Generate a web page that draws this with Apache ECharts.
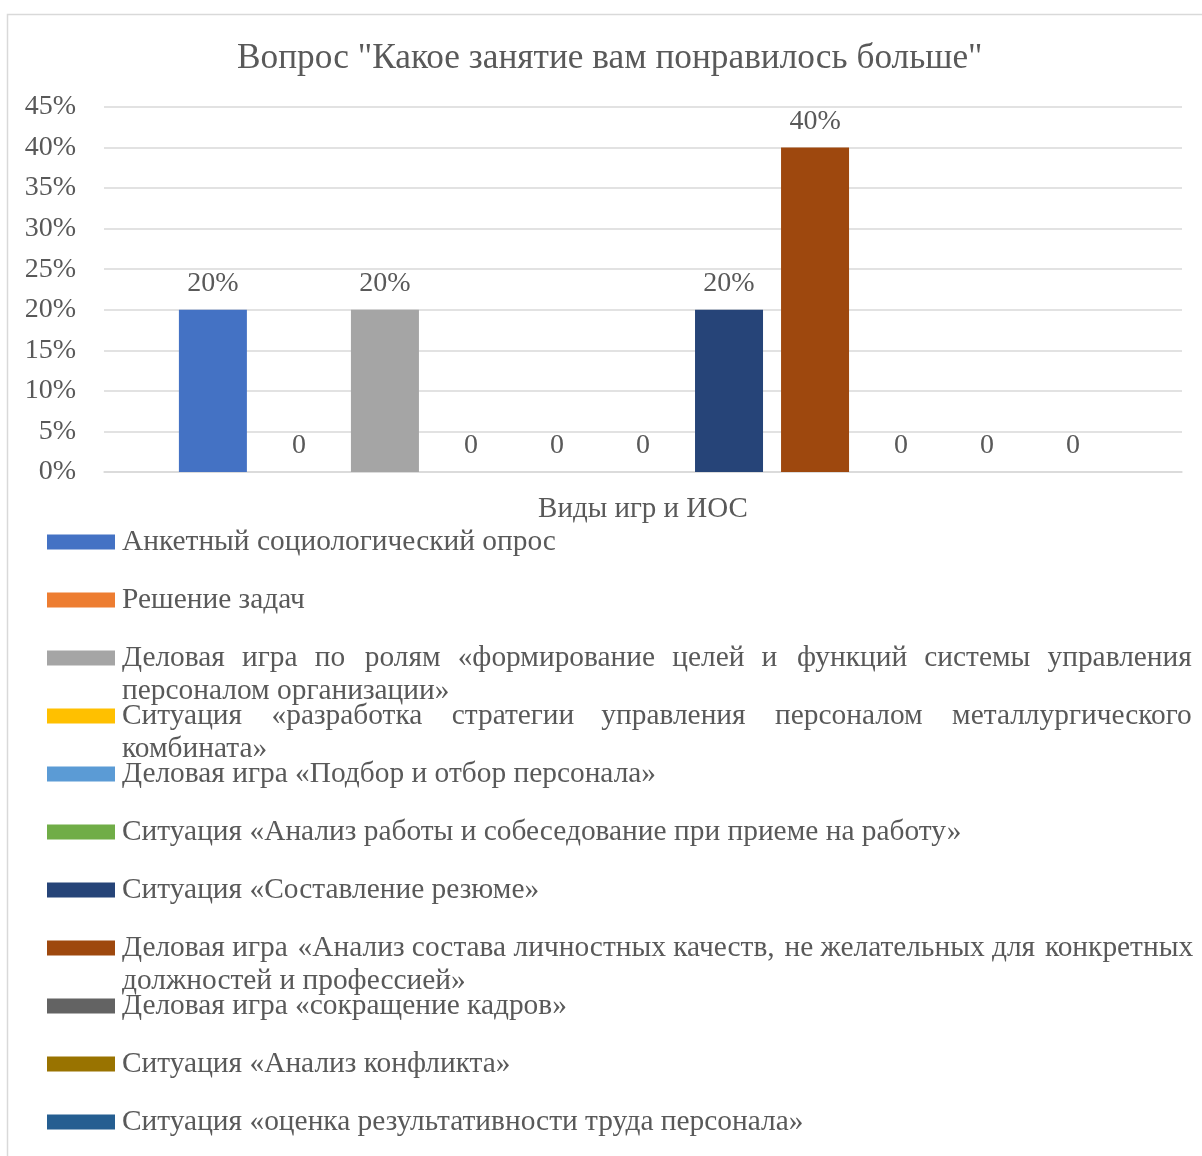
<!DOCTYPE html>
<html><head><meta charset="utf-8">
<script src="https://cdn.jsdelivr.net/npm/echarts@6/dist/echarts.min.js"></script>
<style>html,body{margin:0;padding:0;background:#fff}#c{width:1202px;height:1156px}</style>
</head><body><div id="c"></div>
<script>
const titleText = 'Вопрос "Какое занятие вам понравилось больше"';
const categories = ['Виды игр и ИОС'];
const seriesNames = [
  'Анкетный социологический опрос',
  'Решение задач',
  'Деловая игра по ролям «формирование целей и функций системы управления персоналом организации»',
  'Ситуация «разработка стратегии управления персоналом металлургического комбината»',
  'Деловая игра «Подбор и отбор персонала»',
  'Ситуация «Анализ работы и собеседование при приеме на работу»',
  'Ситуация «Составление резюме»',
  'Деловая игра «Анализ состава личностных качеств, не желательных для конкретных должностей и профессией»',
  'Деловая игра «сокращение кадров»',
  'Ситуация «Анализ конфликта»',
  'Ситуация «оценка результативности труда персонала»'
];
const seriesValues = [0.20, 0, 0.20, 0, 0, 0, 0.20, 0.40, 0, 0, 0];
const seriesColors = ['#4472C4','#ED7D31','#A5A5A5','#FFC000','#5B9BD5','#70AD47','#264478','#9E480E','#636363','#997300','#255E91'];
const yTicks = { min: 0, max: 0.45, interval: 0.05 };

const FONT = '"Liberation Serif", "Times New Roman", serif';
const TXT = '#595959';
const LEG_FS = 29.4, LEG_LH = 33, LEG_W = 1070;

// word wrap + justify (like the source document) using canvas text metrics
const ctx = document.createElement('canvas').getContext('2d');
ctx.font = LEG_FS + 'px "Liberation Serif"';
const mw = s => ctx.measureText(s).width;
const HAIR = '\u200A';
function wrapJustify(s) {
  const words = s.split(' ');
  const lines = [];
  let cur = '';
  for (const w of words) {
    const t = cur ? cur + ' ' + w : w;
    if (!cur || mw(t) <= LEG_W) cur = t; else { lines.push(cur); cur = w; }
  }
  lines.push(cur);
  const sp = mw(' ');
  const hs = mw(HAIR);
  return lines.map((ln, li) => {
    if (li === lines.length - 1) return ln;
    const ws = ln.split(' ');
    const gaps = ws.length - 1;
    if (gaps < 1) return ln;
    const per = (LEG_W - mw(ln)) / gaps;
    let r = ws[0], carry = 0;
    for (let g = 0; g < gaps; g++) {
      let e = per + carry;
      const n = Math.floor(e / sp);
      let rem = e - n * sp;
      let h = hs > 0.5 ? Math.round(rem / hs) : 0;
      carry = rem - h * hs;
      r += ' '.repeat(1 + n) + HAIR.repeat(h) + ws[g + 1];
    }
    return r;
  });
}
const legendLines = seriesNames.map(wrapJustify);

const chart = echarts.init(document.getElementById('c'));
const pct = v => Math.round(v * 100) + '%';

const option = {
  animation: false,
  backgroundColor: '#fff',
  graphic: [{
    type: 'rect', left: 5, top: 12, silent: true,
    shape: { width: 1400, height: 1400 },
    style: { fill: 'none', stroke: '#d9d9d9', lineWidth: 1.5 }
  }],
  title: {
    text: titleText, left: 232, top: 36,
    textStyle: { fontFamily: FONT, fontSize: 35.3, fontWeight: 'normal', color: TXT }
  },
  grid: { left: 104, right: 20, top: 107, bottom: 1156 - 472, containLabel: false },
  xAxis: {
    type: 'category', data: categories,
    axisLine: { lineStyle: { color: '#d9d9d9', width: 1.5 } },
    axisTick: { show: false },
    axisLabel: { fontFamily: FONT, fontSize: 29, color: TXT, margin: 23 }
  },
  yAxis: {
    type: 'value', min: yTicks.min, max: yTicks.max, interval: yTicks.interval,
    axisLine: { show: false }, axisTick: { show: false },
    splitLine: { lineStyle: { color: '#d9d9d9', width: 1.5 } },
    axisLabel: { fontFamily: FONT, fontSize: 28, color: TXT, margin: 28, formatter: pct }
  },
  legend: seriesNames.map((n, i) => {
    const lines = legendLines[i];
    const extra = lines.length - 1;
    return {
      data: [n], left: 47, top: 525.5 + 58 * i - LEG_LH * extra,
      orient: 'vertical', padding: 0,
      icon: 'rect', itemWidth: 68, itemHeight: 15, selectedMode: false,
      formatter: () => '\n'.repeat(extra) + lines.join('\n'),
      textStyle: {
        fontFamily: FONT, fontSize: LEG_FS, color: TXT, lineHeight: LEG_LH,
        overflow: 'none', padding: [0, 0, 0, 2]
      }
    };
  }),
  series: seriesNames.map((n, i) => ({
    type: 'bar', name: n, data: [seriesValues[i]],
    barWidth: 68, barGap: '26.5%',
    itemStyle: { color: seriesColors[i] },
    label: {
      show: true, position: 'top', distance: 12,
      fontFamily: FONT, fontSize: 28, color: TXT,
      formatter: p => p.value === 0 ? '0' : pct(p.value)
    }
  }))
};
chart.setOption(option);
</script></body></html>
